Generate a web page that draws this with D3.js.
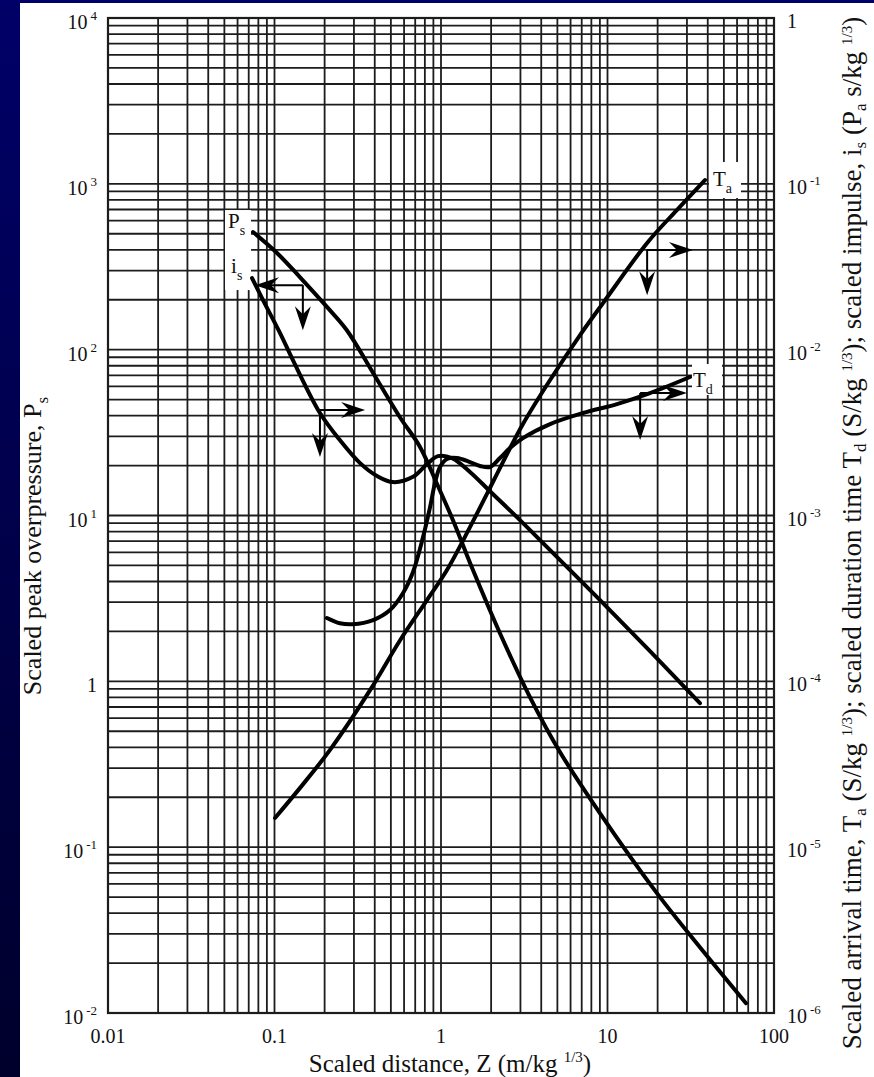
<!DOCTYPE html>
<html>
<head>
<meta charset="utf-8">
<script src="https://cdn.jsdelivr.net/npm/d3@7"></script>
<style>
  body { margin: 0; background: #fff; }
  text { font-family: "Liberation Serif", "DejaVu Serif", serif; fill: #111; }
</style>
</head>
<body>
<svg id="chart" width="874" height="1077"></svg>
<script>
// Blast wave parameters vs scaled distance
// Ps is read on the left axis, Ta / Td / is on the right axis.
var psZ = [0.0743, 0.1035, 0.142, 0.2065, 0.272, 0.391, 0.568, 0.748, 0.946, 1.18, 1.556, 2.26, 3.42, 5.19, 9.02, 19.8, 35.9, 67.9];
var psVal = [512, 383, 274, 181, 131, 72.3, 39, 25.9, 15.5, 9.37, 4.69, 1.95, 0.804, 0.374, 0.160, 0.0528, 0.0249, 0.01145];

var isZ = [0.0733, 0.0853, 0.108, 0.129, 0.1875, 0.247, 0.3266, 0.413, 0.515, 0.679, 0.824, 0.959, 1.164, 1.493, 1.968, 2.98, 4.52, 9.02, 18.0, 35.9];
var isVal = [0.0270, 0.0199, 0.01259, 0.00865, 0.00415, 0.00285, 0.00207, 0.00173, 0.00159, 0.00171, 0.00204, 0.00228, 0.00222, 0.00183, 0.00140, 0.000938, 0.000618, 0.000309, 0.000152, 0.0000738];

var tdZ = [0.2065, 0.247, 0.296, 0.391, 0.494, 0.592, 0.679, 0.780, 0.859, 0.920, 0.986, 1.086, 1.247, 1.493, 1.714, 1.968, 2.26, 2.594, 3.106, 4.52, 7.13, 11.4, 18.0, 31.3];
var tdVal = [0.000241, 0.000224, 0.000221, 0.000234, 0.000269, 0.000341, 0.000456, 0.000741, 0.00112, 0.00157, 0.00196, 0.00219, 0.00222, 0.00210, 0.00199, 0.00196, 0.00222, 0.00255, 0.00293, 0.00356, 0.00415, 0.00470, 0.00547, 0.00684];

var taZ = [0.1007, 0.142, 0.215, 0.375, 0.568, 0.824, 1.086, 1.493, 1.888, 2.356, 3.106, 4.52, 6.84, 9.40, 17.3, 26.1, 38.5];
var taVal = [0.0000150, 0.0000227, 0.0000385, 0.0000885, 0.000177, 0.000309, 0.000469, 0.000851, 0.00135, 0.00210, 0.00356, 0.00656, 0.01225, 0.0191, 0.0440, 0.0695, 0.1054];

// axis tick labels
var xTicks = [0.01, 0.1, 1, 10, 100];
var xTickLabels = ['0.01', '0.1', '1', '10', '100'];
var leftTicks = [1e4, 1e3, 1e2, 1e1, 1, 1e-1, 1e-2];
var leftExp = ['4', '3', '2', '1', '', '-1', '-2'];
var rightTicks = [1, 1e-1, 1e-2, 1e-3, 1e-4, 1e-5, 1e-6];
var rightExp = ['', '-1', '-2', '-3', '-4', '-5', '-6'];

// reading arrows: corner point (Z, left-axis value), tip of horizontal and vertical arrow
var arrowZ = [0.148, 0.1875, 17.3, 15.7];
var arrowVal = [245, 43.2, 399, 54.7];
var arrowTipZ = [0.0764, 0.350, 32.6, 30.0];
var arrowTipVal = [131, 22.5, 213, 28.5];

var svg = d3.select('#chart');
var W = 874, H = 1077;
var mLeft = 108, mRight = 774, mTop = 18, mBottom = 1013;

var x = d3.scaleLog().domain([0.01, 100]).range([mLeft, mRight]);
var yL = d3.scaleLog().domain([1e-2, 1e4]).range([mBottom, mTop]);
var yR = d3.scaleLog().domain([1e-6, 1]).range([mBottom, mTop]);

// slide background (navy frame)
var defs = svg.append('defs');
var grad = defs.append('linearGradient').attr('id', 'navy').attr('x1', 0).attr('y1', 0).attr('x2', 0).attr('y2', 1);
grad.append('stop').attr('offset', '0%').attr('stop-color', '#000068');
grad.append('stop').attr('offset', '100%').attr('stop-color', '#00002c');
svg.append('rect').attr('width', W).attr('height', H).attr('fill', 'url(#navy)');
svg.append('rect').attr('x', 20).attr('y', 3).attr('width', W - 20).attr('height', H - 3).attr('fill', '#fff');

// grid
var grid = svg.append('g').attr('stroke', '#1c1c1c').attr('stroke-width', 1.8);
grid.selectAll('.vx').data(x.ticks()).join('line')
  .attr('x1', d => x(d)).attr('x2', d => x(d)).attr('y1', mTop).attr('y2', mBottom);
grid.selectAll('.hy').data(yL.ticks()).join('line')
  .attr('x1', mLeft).attr('x2', mRight).attr('y1', d => yL(d)).attr('y2', d => yL(d));
svg.append('rect').attr('x', mLeft).attr('y', mTop).attr('width', mRight - mLeft).attr('height', mBottom - mTop)
  .attr('fill', 'none').attr('stroke', '#1c1c1c').attr('stroke-width', 2.2);

// white patches behind curve labels (the scan breaks the grid there)
var patches = [
  [x(psZ[0]) - 28, yL(psVal[0]) - 22, 26, 80],
  [x(taZ[taZ.length - 1]) + 4, yR(taVal[taVal.length - 1]) - 18, 32, 36],
  [x(tdZ[tdZ.length - 1]) + 2, yR(tdVal[tdVal.length - 1]) - 13, 30, 31]
];
svg.selectAll('.patch').data(patches).join('rect')
  .attr('x', d => d[0]).attr('y', d => d[1]).attr('width', d => d[2]).attr('height', d => d[3])
  .attr('fill', '#fff');

// curves
var line = d3.line().curve(d3.curveCatmullRom.alpha(0.5));
var curves = [
  {z: psZ, v: psVal, y: yL},
  {z: isZ, v: isVal, y: yR},
  {z: tdZ, v: tdVal, y: yR},
  {z: taZ, v: taVal, y: yR}
];
svg.append('g').selectAll('path').data(curves).join('path')
  .attr('d', c => line(c.z.map((z, i) => [x(z), c.y(c.v[i])])))
  .attr('fill', 'none').attr('stroke', '#000').attr('stroke-width', 4).attr('stroke-linecap', 'round');

// arrows
var ag = svg.append('g');
function head(tx, ty, dir) {
  // barbed head pointing in dir (radians), tip at tx,ty
  var L = 24, w = 8, back = 16;
  var c = Math.cos(dir), s = Math.sin(dir);
  var pts = [[0, 0], [-L, -w], [-back, 0], [-L, w]];
  return 'M' + pts.map(p => [tx + p[0] * c - p[1] * s, ty + p[0] * s + p[1] * c].join(',')).join('L') + 'Z';
}
arrowZ.forEach(function (z, i) {
  var cx = x(z), cy = yL(arrowVal[i]);
  var hx = x(arrowTipZ[i]), vy = yL(arrowTipVal[i]);
  var hdir = hx < cx ? Math.PI : 0;
  ag.append('line').attr('x1', cx).attr('y1', cy).attr('x2', hx - (hx < cx ? -12 : 12)).attr('y2', cy)
    .attr('stroke', '#000').attr('stroke-width', 2);
  ag.append('line').attr('x1', cx).attr('y1', cy).attr('x2', cx).attr('y2', vy - 12)
    .attr('stroke', '#000').attr('stroke-width', 2);
  ag.append('path').attr('d', head(hx, cy, hdir)).attr('fill', '#000');
  ag.append('path').attr('d', head(cx, vy, Math.PI / 2)).attr('fill', '#000');
});

// curve labels
function subLabel(px, py, main, sub) {
  var t = svg.append('text').attr('x', px).attr('y', py).attr('font-size', 21);
  t.append('tspan').text(main);
  t.append('tspan').attr('font-size', 14).attr('dy', 7).text(sub);
}
subLabel(x(psZ[0]) - 25, yL(psVal[0]) - 4, 'P', 's');
subLabel(x(isZ[0]) - 21, yR(isVal[0]) - 5, 'i', 's');
subLabel(x(taZ[taZ.length - 1]) + 8, yR(taVal[taVal.length - 1]) + 6, 'T', 'a');
subLabel(x(tdZ[tdZ.length - 1]) + 3, yR(tdVal[tdVal.length - 1]) + 10, 'T', 'd');

// tick labels
function powLabel(g, px, py, anchor, exp, base) {
  var t = g.append('text').attr('x', px).attr('y', py).attr('text-anchor', anchor).attr('font-size', 20);
  if (exp === '') { t.text(base); return; }
  t.append('tspan').text('10');
  t.append('tspan').attr('font-size', 13).attr('dx', 3).attr('dy', -9).text(exp);
}
var tl = svg.append('g');
leftTicks.forEach((v, i) => powLabel(tl, 97, yL(v) + 11, 'end', leftExp[i], '1'));
rightTicks.forEach((v, i) => powLabel(tl, 787, yR(v) + 10, 'start', rightExp[i], '1'));
tl.selectAll('.xt').data(xTicks).join('text')
  .attr('x', d => x(d)).attr('y', 1043).attr('text-anchor', 'middle').attr('font-size', 20)
  .text((d, i) => xTickLabels[i]);

// axis titles
var xt = svg.append('text').attr('x', 450).attr('y', 1072).attr('text-anchor', 'middle').attr('font-size', 25);
xt.append('tspan').text('Scaled distance, Z (m/kg ');
xt.append('tspan').attr('font-size', 15).attr('dy', -10).text('1/3');
xt.append('tspan').attr('dy', 10).text(')');

var lt = svg.append('text').attr('transform', 'translate(41,546) rotate(-90)').attr('text-anchor', 'middle').attr('font-size', 26);
lt.append('tspan').text('Scaled peak overpressure, P');
lt.append('tspan').attr('font-size', 17).attr('dy', 7).text('s');

var rt = svg.append('text').attr('transform', 'translate(861,533) rotate(-90)').attr('text-anchor', 'middle').attr('font-size', 27);
var parts = [
  ['Scaled arrival time, T', 0, 27], ['a', 5, 17], [' (S/kg ', -5, 27], ['1/3', -9, 15], ['); scaled duration time T', 9, 27],
  ['d', 5, 17], [' (S/kg ', -5, 27], ['1/3', -9, 15], ['); scaled impulse, i', 9, 27], ['s', 5, 17],
  [' (P', -5, 27], ['a', 5, 17], [' s/kg ', -5, 27], ['1/3', -9, 15], [')', 9, 27]
];
parts.forEach(p => rt.append('tspan').attr('dy', p[1]).attr('font-size', p[2]).text(p[0]));
</script>
</body>
</html>
